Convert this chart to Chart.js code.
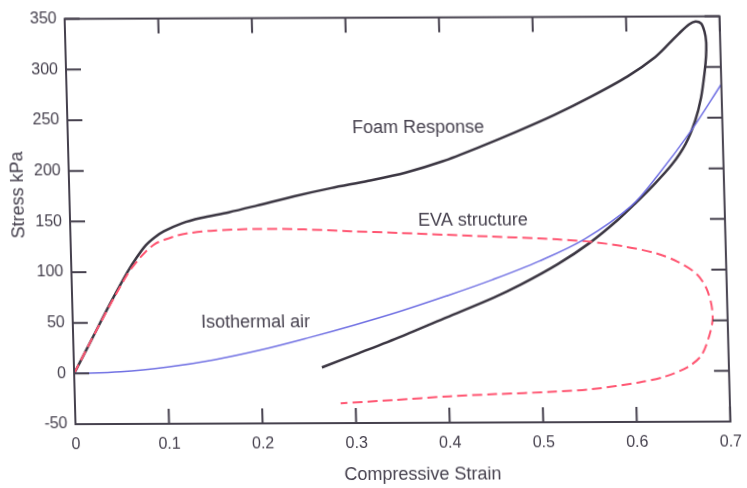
<!DOCTYPE html>
<html>
<head>
<meta charset="utf-8">
<script src="https://cdn.jsdelivr.net/npm/chart.js@4.4.1/dist/chart.umd.min.js"></script>
<style>
  html, body { margin: 0; padding: 0; background: #ffffff; overflow: hidden; }
  #wrap { width: 747px; height: 488px; }
  /* slight shear of the whole figure */
  #c { display: block; transform-origin: 399px 217.75px; transform: matrix(1, -0.004, 0.0268, 1, 0, 0); }
</style>
</head>
<body>
<div id="wrap"><canvas id="c" width="747" height="488"></canvas></div>
<script>
// Axis ticks
const strainTickValues = [0, 0.1, 0.2, 0.3, 0.4, 0.5, 0.6, 0.7];
const strainTickLabels = ['0', '0.1', '0.2', '0.3', '0.4', '0.5', '0.6', '0.7'];
const stressTickValues = [-50, 0, 50, 100, 150, 200, 250, 300, 350];
const stressTickLabels = ['-50', '0', '50', '100', '150', '200', '250', '300', '350'];

// Foam response: loading then unloading (kPa vs strain)
const foamStrain = [0, 0.02, 0.04, 0.06, 0.07, 0.08, 0.09, 0.10, 0.12, 0.14, 0.17, 0.20, 0.24, 0.28, 0.32, 0.36, 0.40, 0.44, 0.48, 0.52, 0.56, 0.60, 0.63, 0.645, 0.656, 0.667, 0.674, 0.680, 0.6835, 0.685, 0.6845, 0.6825, 0.678, 0.671, 0.660, 0.645, 0.625, 0.605, 0.585, 0.555, 0.52, 0.48, 0.45, 0.40, 0.35, 0.305, 0.265];
const foamStress = [0, 34, 68, 100, 114, 126, 134, 140, 148, 153, 158.5, 165, 174, 182, 189, 197, 208, 222, 237, 253, 271, 291, 310, 323, 333, 342, 345, 343, 335, 325, 311, 295, 270, 247, 224, 204, 184, 166, 149, 127, 106, 86, 73, 54, 35, 19, 5];

// EVA structure: loading then unloading
const evaStrain = [0, 0.02, 0.04, 0.06, 0.07, 0.08, 0.09, 0.10, 0.115, 0.13, 0.15, 0.20, 0.25, 0.30, 0.35, 0.40, 0.45, 0.50, 0.52, 0.555, 0.59, 0.625, 0.648, 0.668, 0.678, 0.683, 0.684, 0.680, 0.671, 0.656, 0.631, 0.604, 0.553, 0.51, 0.45, 0.40, 0.34, 0.284];
const evaStress = [0, 34, 67, 98, 110, 120, 127.5, 131.5, 136, 138.5, 140.3, 142, 141.3, 139.3, 137.5, 135.5, 133.5, 131.5, 130.5, 128, 123.5, 116.5, 108, 96, 82, 66, 51, 35, 15.5, 4, -5.5, -11, -17.5, -20, -22, -24, -27.5, -30.5];

// Isothermal air
const airStrain = [0, 0.05, 0.10, 0.15, 0.20, 0.25, 0.30, 0.35, 0.40, 0.45, 0.50, 0.55, 0.60, 0.63, 0.667, 0.70];
const airStress = [0, 1.5, 6, 13, 22.5, 34, 46.5, 60, 75, 91, 109, 131, 163, 194, 238, 283];

// Curve labels, anchored in data units
const curveLabels = ['Foam Response', 'EVA structure', 'Isothermal air'];
const curveLabelStrain = [0.304, 0.372, 0.137];
const curveLabelStress = [236.3, 144.8, 44.4];

const ink = '#46414e';
const fontFamily = "'Liberation Sans', Arial, sans-serif";

const toPoints = (xs, ys) => xs.map((x, i) => ({ x: x, y: ys[i] }));

const framePlugin = {
  id: 'frameAndText',
  afterDatasetsDraw(chart) {
    const ctx = chart.ctx;
    const a = chart.chartArea;
    const xs = chart.scales.x, ys = chart.scales.y;
    const tick = 15;
    ctx.save();
    ctx.strokeStyle = ink;
    ctx.lineWidth = 2;
    ctx.strokeRect(a.left, a.top, a.right - a.left, a.bottom - a.top);
    ctx.beginPath();
    strainTickValues.forEach(v => {
      const px = xs.getPixelForValue(v);
      ctx.moveTo(px, a.bottom); ctx.lineTo(px, a.bottom - tick);
      ctx.moveTo(px, a.top); ctx.lineTo(px, a.top + tick);
    });
    stressTickValues.forEach(v => {
      const py = ys.getPixelForValue(v);
      ctx.moveTo(a.left, py); ctx.lineTo(a.left + tick, py);
      ctx.moveTo(a.right, py); ctx.lineTo(a.right - tick, py);
    });
    ctx.stroke();

    ctx.fillStyle = ink;
    ctx.font = '18px ' + fontFamily;
    ctx.textBaseline = 'alphabetic';
    ctx.textAlign = 'left';
    curveLabels.forEach((t, i) => {
      ctx.fillText(t, xs.getPixelForValue(curveLabelStrain[i]), ys.getPixelForValue(curveLabelStress[i]));
    });

    // axis titles
    ctx.textAlign = 'center';
    ctx.fillText('Compressive Strain', a.left + 346, 480);
    ctx.save();
    ctx.translate(23.6, 193.5);
    ctx.rotate(-Math.PI / 2);
    ctx.fillText('Stress kPa', 0, 0);
    ctx.restore();
    ctx.restore();
  }
};

new Chart(document.getElementById('c'), {
  type: 'scatter',
  data: {
    datasets: [
      {
        label: 'Isothermal air',
        data: toPoints(airStrain, airStress),
        showLine: true,
        borderColor: 'rgba(105,105,225,0.95)',
        borderWidth: 1.5,
        pointRadius: 0,
        tension: 0.35,
        fill: false
      },
      {
        label: 'EVA structure',
        data: toPoints(evaStrain, evaStress),
        showLine: true,
        borderColor: '#ff5672',
        borderWidth: 2,
        borderDash: [10, 5],
        pointRadius: 0,
        tension: 0.3,
        fill: false
      },
      {
        label: 'Foam Response',
        data: toPoints(foamStrain, foamStress),
        showLine: true,
        borderColor: '#3b3642',
        borderWidth: 2.5,
        pointRadius: 0,
        tension: 0.3,
        fill: false
      }
    ]
  },
  options: {
    responsive: false,
    animation: false,
    devicePixelRatio: 1,
    layout: { padding: { left: 0, top: 12, right: 20, bottom: 0 } },
    plugins: { legend: { display: false }, tooltip: { enabled: false } },
    scales: {
      x: {
        type: 'linear',
        min: 0, max: 0.7,
        afterBuildTicks: s => { s.ticks = strainTickValues.map(v => ({ value: v })); },
        afterFit: s => { s.height = 65; },
        grid: { display: false, drawTicks: false },
        border: { display: false },
        ticks: {
          padding: 11,
          color: ink,
          font: { family: fontFamily, size: 16 },
          maxRotation: 0,
          callback: (v, i) => strainTickLabels[i]
        }
      },
      y: {
        type: 'linear',
        min: -50, max: 350,
        afterBuildTicks: s => { s.ticks = stressTickValues.map(v => ({ value: v })); },
        afterFit: s => { s.width = 70; },
        grid: { display: false, drawTicks: false },
        border: { display: false },
        ticks: {
          padding: 8,
          color: ink,
          font: { family: fontFamily, size: 16 },
          callback: (v, i) => stressTickLabels[i]
        }
      }
    }
  },
  plugins: [framePlugin]
});
</script>
</body>
</html>
